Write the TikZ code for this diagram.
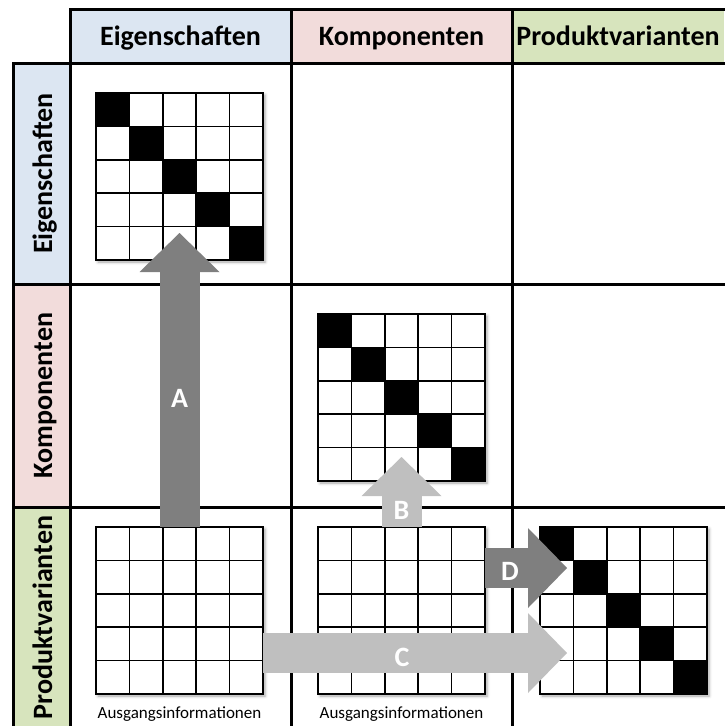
\documentclass[tikz,border=0pt]{standalone}
\usepackage{fontspec}
\setmainfont{Carlito}
\usetikzlibrary{arrows.meta,calc,shadows.blur}
\definecolor{eigblue}{RGB}{220,230,242}
\definecolor{kompink}{RGB}{242,220,219}
\definecolor{prodgreen}{RGB}{215,228,189}
\definecolor{arrdark}{RGB}{127,127,127}
\definecolor{arrlight}{RGB}{191,191,191}

\begin{document}
\begin{tikzpicture}[x=1pt, y=-1pt,
  gridline/.style={line width=3pt, black, line cap=rect},
  mat/.style={rectangle, fill=white, inner sep=0pt, outer sep=0pt, minimum size=167pt, anchor=north west,
    blur shadow={shadow xshift=2pt, shadow yshift=-2pt, shadow blur radius=3pt, shadow opacity=35}},
  matline/.style={line width=1.5pt, black},
  head/.style={font=\fontsize{28}{30}\selectfont\bfseries, anchor=base, inner sep=0pt},
  side/.style={head, rotate=90},
  note/.style={font=\fontsize{17}{19}\selectfont, anchor=base, inner sep=0pt},
  blockarrow/.style={line width=40pt, -{Triangle[width=80pt, length=39pt, line width=0pt]}},
  lbl/.style={head, text=white}]
\useasboundingbox (0,0) rectangle (724,726);
% coloured header row and side column
\fill[eigblue] (70,9) rectangle (291,63);
\fill[kompink] (291,9) rectangle (512,63);
\fill[prodgreen] (512,9) rectangle (724,63);
\fill[eigblue] (13,63) rectangle (70,284);
\fill[kompink] (13,284) rectangle (70,507);
\fill[prodgreen] (13,507) rectangle (70,726);
% table lines
\draw[gridline] (70,9) -- (724,9);
\foreach \y in {63,284,507} \draw[gridline] (13,\y) -- (724,\y);
\draw[gridline] (13,63) -- (13,726);
\foreach \x in {70,291,512} \draw[gridline] (\x,9) -- (\x,726);
% headings
\node[head] (hEig) at (180.5,45) {Eigenschaften};
\node[head] (hKom) at (401.5,45) {Komponenten};
\node[head] (hProd) at (618,45) {Produktvarianten};
\node[side] (sEig) at (52,173.5) {Eigenschaften};
\node[side] (sKom) at (52,395.5) {Komponenten};
\node[side] (sProd) at (52,617.5) {Produktvarianten};
% 5x5 matrices
\foreach \nm/\px/\py in {m11/96/93, m22/318/314, m31/96/527, m32/318/527, m33/540/527}
  \node[mat] (\nm) at (\px,\py) {};
\foreach \nm in {m11,m22,m33}
  \foreach \k in {0,...,4}
    \fill ($(\nm.north west)+(\k*33.4,\k*33.4)$) rectangle ++(33.4,33.4);
\foreach \nm in {m11,m22,m31,m32,m33} {
  \foreach \k in {1,...,4} {
    \draw[matline] ($(\nm.north west)+(\k*33.4,0)$) -- ++(0,167);
    \draw[matline] ($(\nm.north west)+(0,\k*33.4)$) -- ++(167,0);
  }
  \draw[matline] (\nm.north west) rectangle (\nm.south east);
}
\node[note] (in1) at (179.5,718) {Ausgangsinformationen};
\node[note] (in2) at (401.5,718) {Ausgangsinformationen};
% block arrows
\coordinate (tipA) at (179.5,233);
\coordinate (tipB) at (401.5,457);
\coordinate (tipC) at (567,653);
\coordinate (tipD) at (567,568);
\draw[blockarrow, arrdark] (m31.north) -- (tipA);
\draw[blockarrow, arrlight] (m32.north) -- (tipB);
\draw[blockarrow, arrlight] (m31.east |- tipC) -- (tipC);
\draw[blockarrow, arrdark] (m32.east |- tipD) -- (tipD);
\node[lbl] (lA) at (179.5,407) {A};
\node[lbl] (lB) at (401.5,519) {B};
\node[lbl] (lC) at (402,666) {C};
\node[lbl] (lD) at (510,580) {D};
\end{tikzpicture}
\end{document}
